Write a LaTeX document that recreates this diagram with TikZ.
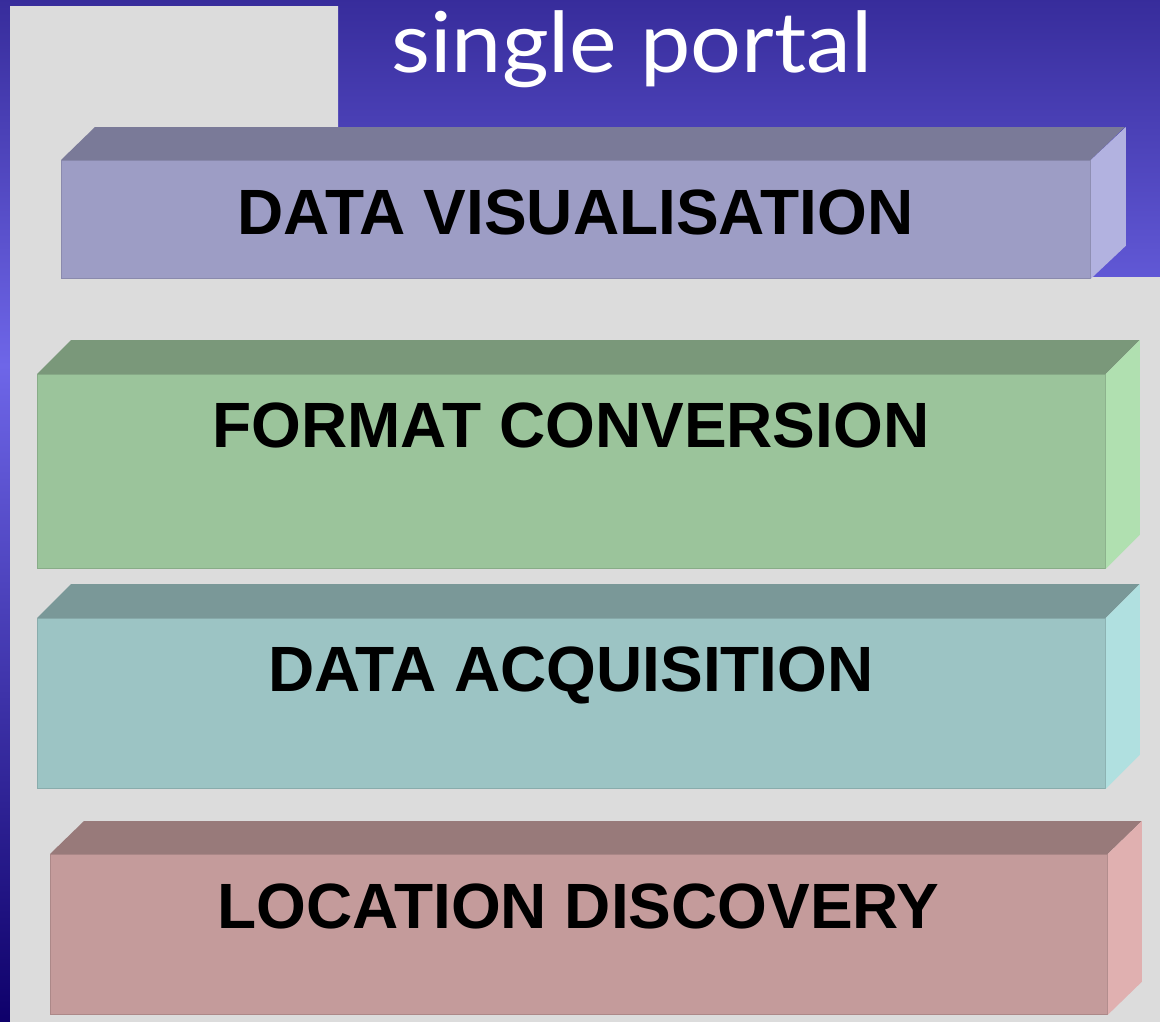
\documentclass[tikz,border=0pt]{standalone}
\usepackage{fontspec}
\setmainfont{Liberation Sans}
\newfontfamily\titlefont{Lato}
\definecolor{bgtop}{HTML}{372C9B}
\definecolor{bgmid}{HTML}{6E66E8}
\definecolor{bgbot}{HTML}{0E006A}
\definecolor{panel}{HTML}{DCDCDC}
\definecolor{colVfront}{HTML}{9D9DC5}\definecolor{colVtop}{HTML}{7A7A98}\definecolor{colVside}{HTML}{B2B2E0}
\definecolor{colFfront}{HTML}{9BC49B}\definecolor{colFtop}{HTML}{7A987A}\definecolor{colFside}{HTML}{B0E0B0}
\definecolor{colAfront}{HTML}{9CC4C4}\definecolor{colAtop}{HTML}{7A9898}\definecolor{colAside}{HTML}{B0E0E0}
\definecolor{colLfront}{HTML}{C49B9B}\definecolor{colLtop}{HTML}{987A7A}\definecolor{colLside}{HTML}{E0B0B0}
\begin{document}
\begin{tikzpicture}[x=1pt,y=-1pt,
  frontface/.style={draw=#1!88!black, line width=0.8pt, fill=#1, inner sep=0pt, anchor=north west},
  lbl/.style={font=\bfseries\fontsize{64}{64}\selectfont, anchor=base, inner sep=0pt, text=black}]
\useasboundingbox (0,0) rectangle (1160,1021);
% background
\shade[top color=bgtop, bottom color=bgmid] (0,-2) rectangle (1162,366);
\shade[top color=bgmid, bottom color=bgbot] (0,365) rectangle (1162,1024);
\fill[panel] (10,6) -- (338,6) -- (338,277) -- (1162,277) -- (1162,1024) -- (10,1024) -- cycle;
% title
\node[text=white, font=\titlefont\fontsize{84}{84}\selectfont, anchor=base, inner sep=0pt] (title) at (632,72) {\scalebox{1.07}[1]{single portal}};
% box 1
\node[frontface=colVfront, minimum width=1029pt, minimum height=118pt] (dv) at (61,160) {};
\fill[colVtop] (dv.north west) -- ++(34,-33) -- ([shift={(34,-33)}]dv.north east) -- (dv.north east) -- cycle;
\fill[colVside] (dv.north east) -- ++(35,-33) -- ([shift={(35,-33)}]dv.south east) -- (dv.south east) -- cycle;
\node[lbl] (dvt) at (575.5,234) {DATA VISUALISATION};
% box 2
\node[frontface=colFfront, minimum width=1068pt, minimum height=194pt] (fc) at (37,374) {};
\fill[colFtop] (fc.north west) -- ++(34,-34) -- ([shift={(34,-34)}]fc.north east) -- (fc.north east) -- cycle;
\fill[colFside] (fc.north east) -- ++(34,-34) -- ([shift={(34,-34)}]fc.south east) -- (fc.south east) -- cycle;
\node[lbl] (fct) at (571,447) {FORMAT CONVERSION};
% box 3
\node[frontface=colAfront, minimum width=1068pt, minimum height=170pt] (da) at (37,618) {};
\fill[colAtop] (da.north west) -- ++(34,-34) -- ([shift={(34,-34)}]da.north east) -- (da.north east) -- cycle;
\fill[colAside] (da.north east) -- ++(34,-34) -- ([shift={(34,-34)}]da.south east) -- (da.south east) -- cycle;
\node[lbl] (dat) at (571,691) {DATA ACQUISITION};
% box 4
\node[frontface=colLfront, minimum width=1057pt, minimum height=160pt] (ld) at (50,854) {};
\fill[colLtop] (ld.north west) -- ++(34,-33) -- ([shift={(34,-33)}]ld.north east) -- (ld.north east) -- cycle;
\fill[colLside] (ld.north east) -- ++(34,-33) -- ([shift={(34,-33)}]ld.south east) -- (ld.south east) -- cycle;
\node[lbl] (ldt) at (578.5,928) {LOCATION DISCOVERY};
\end{tikzpicture}
\end{document}
